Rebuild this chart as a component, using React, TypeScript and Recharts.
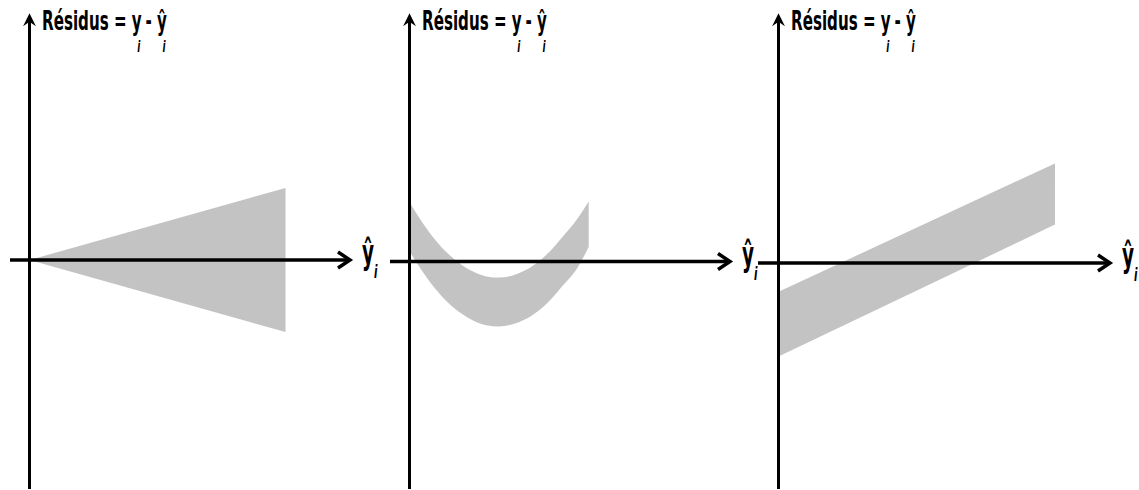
import React from "react";
import { ComposedChart, Area, XAxis, YAxis, ReferenceLine } from "recharts";

// ---------- data ----------
// Panel 1: funnel (heteroscedasticity)
const p1X = [0, 10];
const p1Low = [0, -3];
const p1High = [0, 3];

// Panel 2: curved band (non-linearity)
const p2X = [0, 0.5, 1, 1.5, 2, 2.5, 3, 3.5, 4, 4.5, 5, 5.5, 6, 6.5, 7];
const p2High = [2.47, 1.63, 0.91, 0.33, -0.11, -0.43, -0.62, -0.67, -0.59, -0.38, -0.04, 0.44, 1.05, 1.7, 2.5];
const p2Low = [0.43, -0.41, -1.13, -1.71, -2.15, -2.47, -2.66, -2.71, -2.63, -2.42, -2.08, -1.6, -0.99, -0.36, 0.6];

// Panel 3: sloped band (linear trend in residuals)
const p3X = [0, 10.8];
const p3Low = [-3.9, 1.6];
const p3High = [-1.2, 4.15];

// ---------- text ----------
const titleMain = "Résidus = y";
const titleMid = " - ";
const hatY = "ŷ";
const subI = "i";

// ---------- layout ----------
const W = 1139;
const H = 490;
const SX = 25.6; // px per unit, horizontal
const SY = 24; // px per unit, vertical
const SCALE_X = 0.56;
const FILL = "#c3c3c3";

type Row = { x: number; band: [number, number] };
const rows = (xs: number[], lo: number[], hi: number[]): Row[] =>
  xs.map((x, i) => ({ x, band: [lo[i], hi[i]] }));

const panels = [
  { left: 0, width: 380, axisX: 29.5, axisY: 260, xStart: 10, xEnd: 350, data: rows(p1X, p1Low, p1High), curve: "linear" },
  { left: 380, width: 378, axisX: 409.5, axisY: 261.5, xStart: 390, xEnd: 730, data: rows(p2X, p2Low, p2High), curve: "monotone" },
  { left: 750, width: 389, axisX: 778.5, axisY: 263, xStart: 758, xEnd: 1110, data: rows(p3X, p3Low, p3High), curve: "linear" },
];
const Y_TOP = 15;
const Y_BOTTOM = 489;

const XArrow = (props: any) => {
  const { x1, y1, x2, y2 } = props;
  return (
    <g>
      <line x1={x1} y1={y1} x2={x2 - 2} y2={y2} stroke="#000" strokeWidth={3.5} />
      <path d={`M${x2 - 12},${y2 - 8} L${x2},${y2} L${x2 - 12},${y2 + 8}`} fill="none" stroke="#000" strokeWidth={3.5} strokeLinejoin="miter" />
    </g>
  );
};

const YArrow = (props: any) => {
  const { x1, y1, x2, y2 } = props;
  return (
    <g>
      <line x1={x1} y1={y1} x2={x2} y2={y2 + 2} stroke="#000" strokeWidth={3} />
      <path d={`M${x2 - 4.5},${y2 + 9} L${x2},${y2} L${x2 + 4.5},${y2 + 9} L${x2},${y2 + 6} Z`} fill="#000" stroke="#000" strokeWidth={1.5} />
    </g>
  );
};

const Sub = ({ size, top, ml }: { size: number; top: number; ml: number }) => (
  <span style={{ fontSize: size, fontStyle: "italic", position: "relative", top, marginLeft: ml }}>{subI}</span>
);

const textBase: React.CSSProperties = {
  position: "absolute",
  fontFamily: '"DejaVu Sans", sans-serif',
  fontWeight: 700,
  color: "#000",
  whiteSpace: "nowrap",
  transform: `scaleX(${SCALE_X})`,
  transformOrigin: "0 0",
};

const Panel = ({ p }: { p: (typeof panels)[number] }) => {
  const xDomain = [(p.left - p.axisX) / SX, (p.left + p.width - p.axisX) / SX];
  const yDomain = [-(H - p.axisY) / SY, p.axisY / SY];
  return (
    <div style={{ position: "absolute", left: p.left, top: 0 }}>
      <ComposedChart width={p.width} height={H} data={p.data} margin={{ top: 0, right: 0, bottom: 0, left: 0 }}>
        <XAxis dataKey="x" type="number" domain={xDomain} allowDataOverflow hide />
        <YAxis type="number" domain={yDomain} allowDataOverflow hide width={0} />
        <Area
          dataKey="band"
          type={p.curve as any}
          fill={FILL}
          fillOpacity={1}
          stroke="none"
          isAnimationActive={false}
          dot={false}
          activeDot={false}
        />
        <ReferenceLine
          ifOverflow="visible"
          segment={[
            { x: (p.xStart - p.axisX) / SX, y: 0 },
            { x: (p.xEnd - p.axisX) / SX, y: 0 },
          ]}
          shape={XArrow}
        />
        <ReferenceLine
          ifOverflow="visible"
          segment={[
            { x: 0, y: -(Y_BOTTOM - p.axisY) / SY },
            { x: 0, y: (p.axisY - Y_TOP) / SY },
          ]}
          shape={YArrow}
        />
      </ComposedChart>
    </div>
  );
};

export default function App() {
  return (
    <div style={{ position: "absolute", left: 0, top: 0, width: W, height: H, background: "#fff", overflow: "hidden" }}>
      {panels.map((p, i) => (
        <Panel key={i} p={p} />
      ))}
      {panels.map((p, i) => (
        <div key={"t" + i} style={{ ...textBase, left: p.axisX + 12.5, top: 7, fontSize: 27, lineHeight: "27px" }}>
          {titleMain}
          <Sub size={16} top={22} ml={-8} />
          {titleMid}
          {hatY}
          <Sub size={16} top={22} ml={-8} />
        </div>
      ))}
      {panels.map((p, i) => (
        <div key={"l" + i} style={{ ...textBase, left: p.xEnd + 12, top: 236 + (p.axisY - 260), fontSize: 33, lineHeight: "33px" }}>
          {hatY}
          <Sub size={18} top={14} ml={0} />
        </div>
      ))}
    </div>
  );
}
